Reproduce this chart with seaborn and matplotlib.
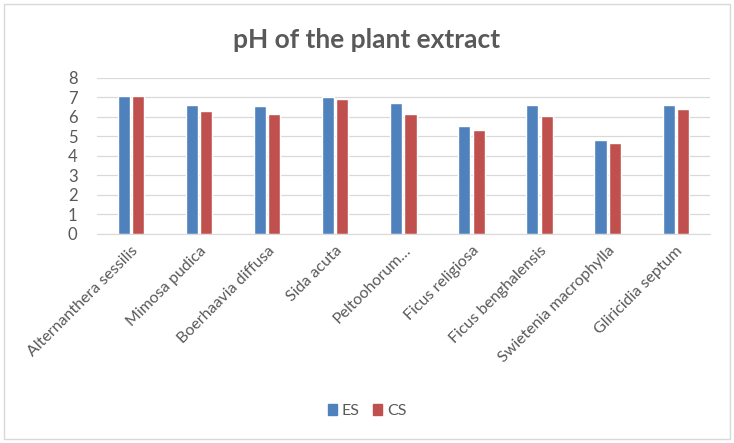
import pandas as pd
import seaborn as sns
import matplotlib.pyplot as plt
from matplotlib.patches import Rectangle

plants = ["Alternanthera sessilis", "Mimosa pudica", "Boerhaavia diffusa",
          "Sida acuta", "Peltoohorum\u2026", "Ficus religiosa",
          "Ficus benghalensis", "Swietenia macrophylla", "Gliricidia septum"]
es_vals = [7.1, 6.6, 6.55, 7.0, 6.7, 5.55, 6.6, 4.82, 6.6]
cs_vals = [7.05, 6.3, 6.15, 6.9, 6.15, 5.35, 6.07, 4.67, 6.4]
series = ["ES", "CS"]
colors = ["#4F81BD", "#C0504D"]

df = pd.DataFrame({"plant": plants * 2,
                   "pH": es_vals + cs_vals,
                   "series": ["ES"] * len(plants) + ["CS"] * len(plants)})

sns.set_style("white")
plt.rcParams["font.family"] = ["Lato", "DejaVu Sans"]
txt = "#595959"

fig = plt.figure(figsize=(7.34, 4.43), dpi=100)
ax = fig.add_axes([0.132, 0.472, 0.835, 0.352])
sns.barplot(data=df, x="plant", y="pH", hue="series", hue_order=series,
            palette=colors, saturation=1, width=0.42, gap=0.15, ax=ax,
            legend=False)

ax.set_ylim(0, 8)
ax.set_yticks(range(0, 9))
ax.set_xlim(-0.5, len(plants) - 0.5)
ax.yaxis.grid(True, color="#D9D9D9", lw=0.9)
ax.set_axisbelow(True)
for s in ["top", "right", "left"]:
    ax.spines[s].set_visible(False)
ax.spines["bottom"].set_color("#D9D9D9")
ax.set_xlabel("")
ax.set_ylabel("")
ax.tick_params(axis="x", length=0, colors=txt, labelsize=11.5, pad=7)
ax.tick_params(axis="y", length=0, colors=txt, labelsize=12, pad=14)
plt.setp(ax.get_xticklabels(), rotation=45, ha="right",
         rotation_mode="anchor", color=txt)

fig.text(0.5, 0.91, "pH of the plant extract", ha="center", va="center",
         fontsize=19, color=txt, fontweight="bold")

handles = [Rectangle((0, 0), 1, 1, color=c) for c in colors]
fig.legend(handles, series, loc="center", bbox_to_anchor=(0.5, 0.073),
           ncol=2, frameon=False, handlelength=0.6, handleheight=0.7,
           handletextpad=0.3, columnspacing=0.8, fontsize=11.5,
           labelcolor=txt)

fig.patches.append(Rectangle((0.006, 0.01), 0.988, 0.98, transform=fig.transFigure,
                             fill=False, edgecolor="#D9D9D9", lw=1))

fig.savefig("out.png", dpi=100, facecolor="white")
